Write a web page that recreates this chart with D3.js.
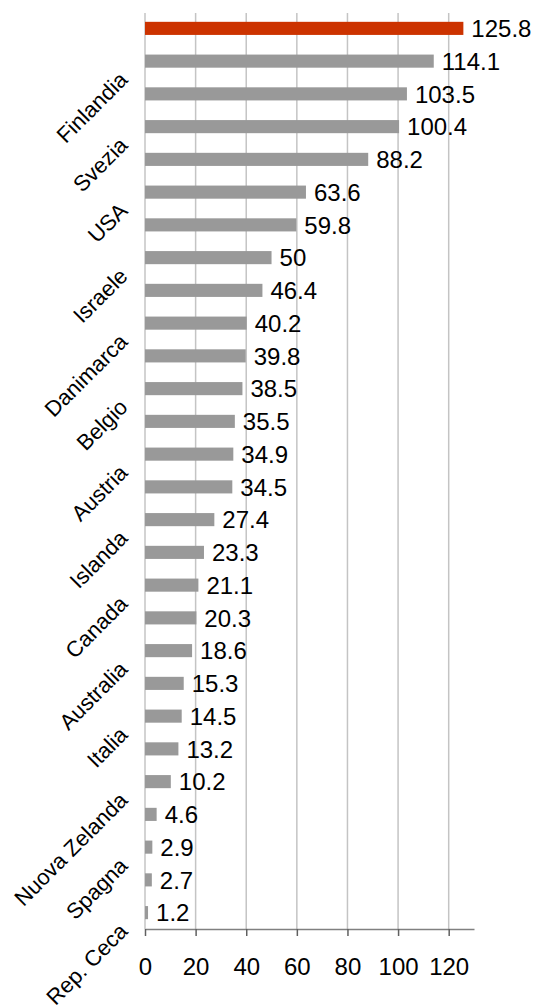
<!DOCTYPE html>
<html>
<head>
<meta charset="utf-8">
<script src="https://cdn.jsdelivr.net/npm/d3@7"></script>
<style>
  body { margin: 0; background: #fff; }
  text { font-family: "Liberation Sans", Arial, sans-serif; fill: #000; }
</style>
</head>
<body>
<svg id="chart"></svg>
<script>
const width = 536;
const height = 1005;

// category names, top to bottom (only every other label is shown in the chart)
const countries = [
    null, "Finlandia", null, "Svezia", null, "USA", null, "Israele",
    null, "Danimarca", null, "Belgio", null, "Austria", null, "Islanda",
    null, "Canada", null, "Australia", null, "Italia", null, "Nuova Zelanda",
    null, "Spagna", null, "Rep. Ceca"
];
const values = [
    125.8, 114.1, 103.5, 100.4, 88.2, 63.6, 59.8, 50,
    46.4, 40.2, 39.8, 38.5, 35.5, 34.9, 34.5, 27.4,
    23.3, 21.1, 20.3, 18.6, 15.3, 14.5, 13.2, 10.2,
    4.6, 2.9, 2.7, 1.2
];
const xTicks = [0, 20, 40, 60, 80, 100, 120];

const svg = d3.select("#chart")
    .attr("width", width)
    .attr("height", height);

const x = d3.scaleLinear()
    .domain([0, 130])
    .range([145, 474]);

const y = d3.scaleBand()
    .domain(d3.range(values.length))
    .range([12, 929])
    .paddingInner(0.6)
    .paddingOuter(0.3);

// vertical gridlines
svg.append("g")
    .selectAll("line")
    .data(xTicks)
    .join("line")
    .attr("x1", d => x(d))
    .attr("x2", d => x(d))
    .attr("y1", 13)
    .attr("y2", 929)
    .attr("stroke", "#c4c4c4")
    .attr("stroke-width", 1.5);

// bars
svg.append("g")
    .selectAll("rect")
    .data(values)
    .join("rect")
    .attr("x", x(0))
    .attr("y", (d, i) => y(i))
    .attr("width", d => x(d) - x(0))
    .attr("height", y.bandwidth())
    .attr("fill", (d, i) => i === 0 ? "#cc3300" : "#999999");

// value labels
svg.append("g")
    .selectAll("text")
    .data(values)
    .join("text")
    .attr("x", d => x(d) + 8)
    .attr("y", (d, i) => y(i) + y.bandwidth() / 2)
    .attr("dy", "0.36em")
    .attr("font-size", 24)
    .text(d => d);

// bottom axis
const bottomAxis = svg.append("g")
    .attr("transform", `translate(0, 929)`)
    .call(d3.axisBottom(x)
        .tickValues(xTicks)
        .tickSize(7)
        .tickSizeOuter(0)
        .tickPadding(22));

bottomAxis.select(".domain").attr("stroke", "#808080").attr("stroke-width", 1.5);
bottomAxis.selectAll(".tick line").attr("stroke", "#606060").attr("stroke-width", 1.5);
bottomAxis.selectAll(".tick text")
    .attr("font-size", 24)
    .attr("font-family", "Liberation Sans, Arial, sans-serif")
    .attr("fill", "#000");

// left axis with rotated category labels
const labelled = d3.range(values.length).filter(i => countries[i] !== null);

const leftAxis = svg.append("g")
    .attr("transform", `translate(${x(0)}, 0)`)
    .call(d3.axisLeft(y)
        .tickValues(labelled)
        .tickFormat(i => countries[i])
        .tickSize(0));

leftAxis.select(".domain").remove();
leftAxis.selectAll(".tick text")
    .attr("x", 0)
    .attr("y", 0)
    .attr("dy", 0)
    .attr("text-anchor", "end")
    .attr("transform", "translate(-16, 20) rotate(-45)")
    .attr("font-size", 22)
    .attr("font-family", "Liberation Sans, Arial, sans-serif")
    .attr("fill", "#000");
</script>
</body>
</html>
